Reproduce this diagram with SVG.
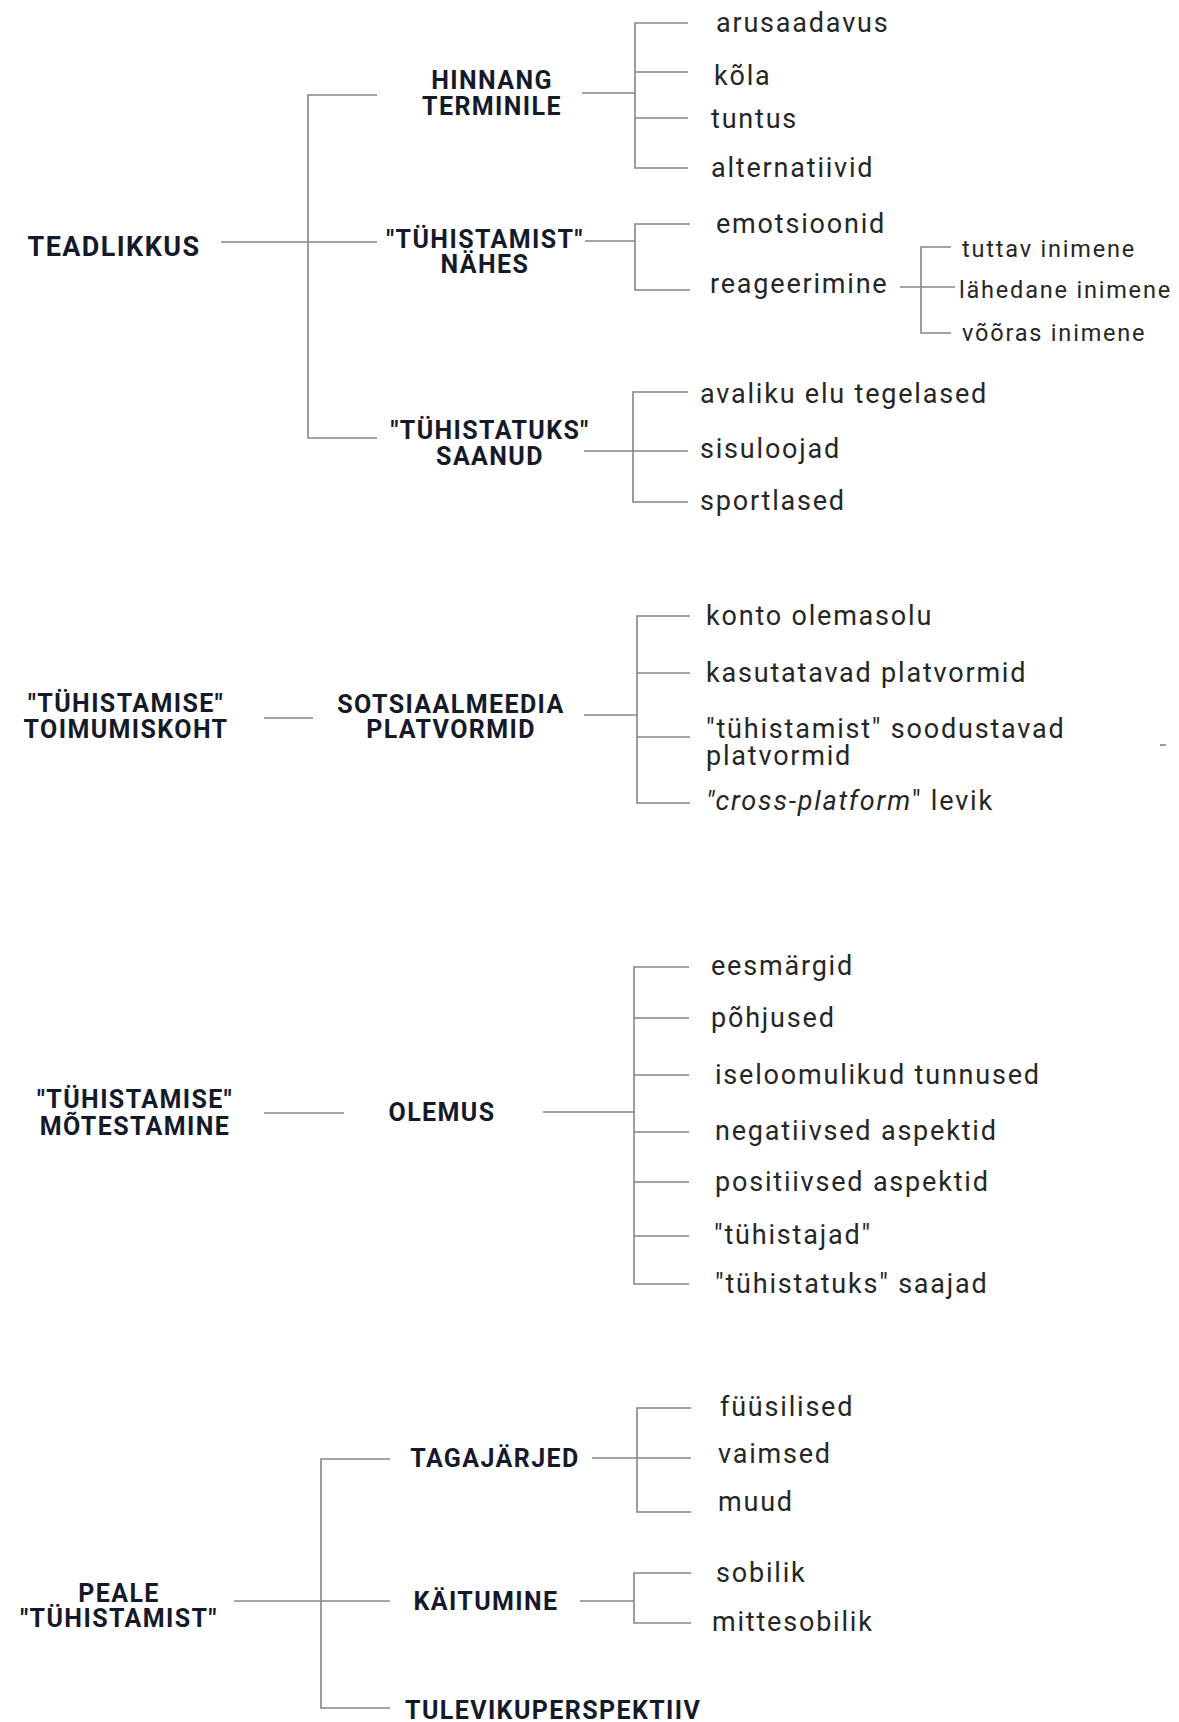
<svg xmlns="http://www.w3.org/2000/svg" width="1179" height="1722" viewBox="0 0 1179 1722">
<style>
.h{font-family:Roboto,"Liberation Sans",sans-serif;font-weight:700;font-size:25px;letter-spacing:1.4px;fill:#151a2b;text-anchor:middle}
.h1{font-size:27px}
.l{font-family:Roboto,"Liberation Sans",sans-serif;font-weight:400;font-size:27px;letter-spacing:1.8px;fill:#262626}
.s{font-size:23.5px}
.c{fill:none;stroke:#84848a;stroke-width:1.6}
</style>
<rect width="1179" height="1722" fill="#ffffff"/>
<g id="connectors" class="c">
<path d="M221 242H377M377 95H308V438H377"/>
<path d="M582 93H635M688 23H635V168H688M635 72H688M635 118H688"/>
<path d="M585 241H635M690 224H635V290H690"/>
<path d="M900 287H955M951 247H921V333H951"/>
<path d="M584 451H688M688 392H633V502H688"/>
<path d="M264 718H313"/>
<path d="M584 715H637M690 616H637V803H690M637 673H690M637 737H690"/>
<path d="M264 1113H344"/>
<path d="M543 1112H634M689 967H634V1284H689M634 1018H689M634 1075H689M634 1132H689M634 1182H689M634 1236H689"/>
<path d="M234 1601H390M390 1459H321V1708H390"/>
<path d="M592 1458H691M691 1408H637V1512H691"/>
<path d="M580 1601H634M691 1573H634V1623H691"/>
<path d="M1160 745H1166"/>
</g>
<g id="teadlikkus"><text class="h h1" x="114" y="256">TEADLIKKUS</text></g>
<g id="hinnang"><text class="h" x="492" y="89">HINNANG</text><text class="h" x="492" y="115">TERMINILE</text></g>
<g id="tuhistamist-nahes"><text class="h" x="485" y="248">"TÜHISTAMIST"</text><text class="h" x="485" y="273">NÄHES</text></g>
<g id="tuhistatuks-saanud"><text class="h" x="490" y="439">"TÜHISTATUKS"</text><text class="h" x="490" y="465">SAANUD</text></g>
<g id="arusaadavus"><text class="l" x="716" y="32">arusaadavus</text></g>
<g id="kola"><text class="l" x="714" y="85">kõla</text></g>
<g id="tuntus"><text class="l" x="711" y="128">tuntus</text></g>
<g id="alternatiivid"><text class="l" x="711" y="177">alternatiivid</text></g>
<g id="emotsioonid"><text class="l" x="716" y="233">emotsioonid</text></g>
<g id="reageerimine"><text class="l" x="710" y="293">reageerimine</text></g>
<g id="tuttav"><text class="l s" x="962" y="257">tuttav inimene</text></g>
<g id="lahedane"><text class="l s" x="959" y="298">lähedane inimene</text></g>
<g id="vooras"><text class="l s" x="962" y="341">võõras inimene</text></g>
<g id="avaliku"><text class="l" x="700" y="403">avaliku elu tegelased</text></g>
<g id="sisuloojad"><text class="l" x="700" y="458">sisuloojad</text></g>
<g id="sportlased"><text class="l" x="700" y="510">sportlased</text></g>
<g id="toimumiskoht"><text class="h" x="126" y="712">"TÜHISTAMISE"</text><text class="h" x="126" y="738">TOIMUMISKOHT</text></g>
<g id="sotsiaalmeedia"><text class="h" x="451" y="713">SOTSIAALMEEDIA</text><text class="h" x="451" y="738">PLATVORMID</text></g>
<g id="konto"><text class="l" x="706" y="625">konto olemasolu</text></g>
<g id="kasutatavad"><text class="l" x="706" y="682">kasutatavad platvormid</text></g>
<g id="soodustavad"><text class="l" x="706" y="738">"tühistamist" soodustavad</text><text class="l" x="706" y="765">platvormid</text></g>
<g id="crossplatform"><text class="l" x="706" y="810"><tspan font-style="italic">"cross-platform</tspan>" levik</text></g>
<g id="motestamine"><text class="h" x="135" y="1108">"TÜHISTAMISE"</text><text class="h" x="135" y="1135">MÕTESTAMINE</text></g>
<g id="olemus"><text class="h" x="442" y="1121">OLEMUS</text></g>
<g id="eesmargid"><text class="l" x="711" y="975">eesmärgid</text></g>
<g id="pohjused"><text class="l" x="711" y="1027">põhjused</text></g>
<g id="iseloomulikud"><text class="l" x="715" y="1084">iseloomulikud tunnused</text></g>
<g id="negatiivsed"><text class="l" x="715" y="1140">negatiivsed aspektid</text></g>
<g id="positiivsed"><text class="l" x="715" y="1191">positiivsed aspektid</text></g>
<g id="tuhistajad"><text class="l" x="714" y="1244">"tühistajad"</text></g>
<g id="saajad"><text class="l" x="715" y="1293">"tühistatuks" saajad</text></g>
<g id="peale"><text class="h" x="119" y="1602">PEALE</text><text class="h" x="119" y="1627">"TÜHISTAMIST"</text></g>
<g id="tagajarjed"><text class="h" x="495" y="1467">TAGAJÄRJED</text></g>
<g id="kaitumine"><text class="h" x="486" y="1610">KÄITUMINE</text></g>
<g id="tulevik"><text class="h" x="405" y="1719" style="text-anchor:start">TULEVIKUPERSPEKTIIV</text></g>
<g id="fuusilised"><text class="l" x="720" y="1416">füüsilised</text></g>
<g id="vaimsed"><text class="l" x="718" y="1463">vaimsed</text></g>
<g id="muud"><text class="l" x="718" y="1511">muud</text></g>
<g id="sobilik"><text class="l" x="716" y="1582">sobilik</text></g>
<g id="mittesobilik"><text class="l" x="712" y="1631">mittesobilik</text></g>
</svg>
